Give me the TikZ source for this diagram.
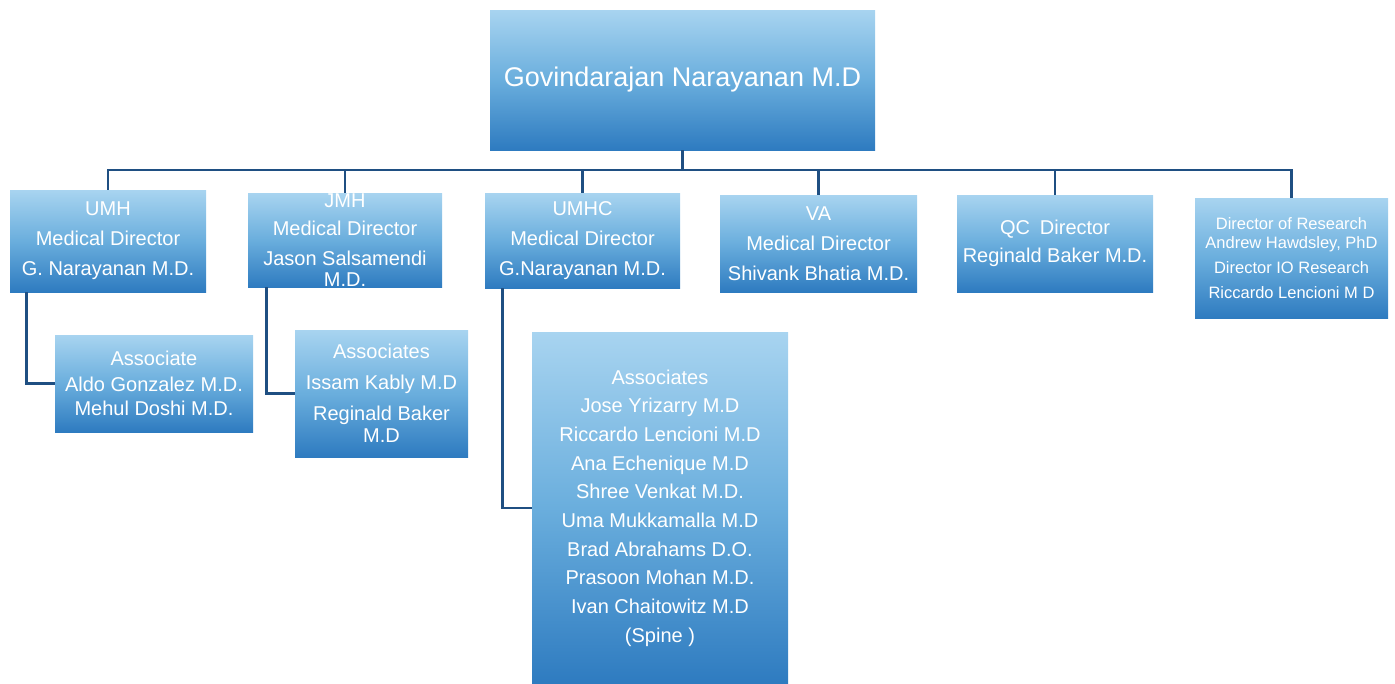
\documentclass[tikz,border=0pt]{standalone}
\usepackage{fontspec}
\setmainfont{Liberation Sans}
\definecolor{boxtop}{HTML}{A8D4F0}
\definecolor{boxmid}{HTML}{6AAEDD}
\definecolor{boxbot}{HTML}{2E7BC0}
\definecolor{linec}{HTML}{1F4F82}
\tikzset{
  orgbox/.style={rectangle, inner sep=0pt, align=center, text=white,
    top color=boxtop, bottom color=boxbot, middle color=boxmid},
  conn/.style={draw=linec, line width=2.8pt},
  lvtwo/.style={orgbox, font=\fontsize{20}{30}\selectfont},
}
\begin{document}
\begin{tikzpicture}[x=1pt,y=-1pt]
\useasboundingbox (0,0) rectangle (1395,683);
\node[orgbox, minimum width=385pt, minimum height=140pt, font=\fontsize{27}{32}\selectfont] (top) at (682.5,80) {Govindarajan Narayanan M.D};
\node[lvtwo, minimum width=196pt, minimum height=102pt] (umh) at (108,241) {UMH\\Medical Director\\G. Narayanan M.D.};
\node[lvtwo, minimum width=194pt, minimum height=94pt] (jmh) at (345,240) {JMH\\[-2pt]Medical Director\\Jason Salsamendi\\[-9pt]M.D.};
\node[lvtwo, minimum width=195pt, minimum height=95pt] (umhc) at (582.5,240.5) {UMHC\\Medical Director\\G.Narayanan M.D.};
\node[lvtwo, minimum width=197pt, minimum height=97pt] (va) at (818.5,243.5) {VA\\Medical Director\\Shivank Bhatia M.D.};
\node[lvtwo, minimum width=196pt, minimum height=97pt] (qc) at (1055,243.5) {QC\enspace Director\\[-2pt]Reginald Baker M.D.};
\node[orgbox, minimum width=193pt, minimum height=120pt, font=\fontsize{16.5}{25}\selectfont] (res) at (1291.5,258) {Director of Research\\[-6pt]Andrew Hawdsley, PhD\\Director IO Research\\Riccardo Lencioni M D};
\node[orgbox, minimum width=198pt, minimum height=97pt, font=\fontsize{20}{26}\selectfont] (a1) at (154,383.5) {Associate\\Aldo Gonzalez M.D.\\[-2pt]Mehul Doshi M.D.};
\node[orgbox, minimum width=173pt, minimum height=127pt, font=\fontsize{20}{31}\selectfont] (a2) at (381.5,393.5) {Associates\\Issam Kably M.D\\Reginald Baker\\[-9pt]M.D};
\node[orgbox, minimum width=256pt, minimum height=352pt, font=\fontsize{20}{28.7}\selectfont] (a3) at (660,508) {Associates\\Jose Yrizarry M.D\\Riccardo Lencioni M.D\\Ana Echenique M.D\\Shree Venkat M.D.\\Uma Mukkamalla M.D\\Brad Abrahams D.O.\\Prasoon Mohan M.D.\\Ivan Chaitowitz M.D\\(Spine )};
\coordinate (bus) at (0,170);
\draw[conn] (top.south) -- (top.south |- bus);
\draw[conn] (umh.north) -- (umh.north |- bus) -- (res.north |- bus) -- (res.north);
\foreach \n in {jmh,umhc,va,qc} { \draw[conn] (\n.north) -- (\n.north |- bus); }
\draw[conn] ([xshift=17pt]umh.south west) |- (a1.west);
\draw[conn] ([xshift=19pt]jmh.south west) |- (a2.west);
\draw[conn] ([xshift=18pt]umhc.south west) |- (a3.west);
\end{tikzpicture}
\end{document}
